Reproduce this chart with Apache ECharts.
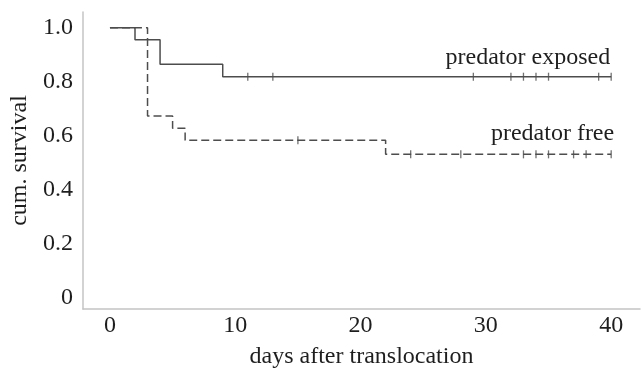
<!DOCTYPE html>
<html>
<head>
<meta charset="utf-8">
<script src="https://cdn.jsdelivr.net/npm/echarts@6/dist/echarts.min.js"></script>
<style>
  html, body { margin: 0; padding: 0; background: #fff; }
  #chart { width: 641px; height: 374px; }
</style>
</head>
<body>
<div id="chart"></div>
<script>
// Kaplan-Meier steps
var exposedDays = [0, 2, 4, 9, 40];
var exposedSurv = [1.0, 0.955, 0.864, 0.818, 0.818];
var exposedCensored = [11, 13, 29, 32, 33, 34, 35, 39, 40];

var freeDays = [0, 3, 5, 6, 22, 40];
var freeSurv = [1.0, 0.672, 0.627, 0.582, 0.53, 0.53];
var freeCensored = [15, 24, 28, 33, 34, 35, 37, 38, 40];

var xTicks = [0, 10, 20, 30, 40];
var yTicks = [0, 0.2, 0.4, 0.6, 0.8, 1.0];

var FONT = '"Liberation Serif", "DejaVu Serif", serif';
var textColor = '#1e1e1e';
var lineColor = '#4d4d4d';
var axisColor = '#c4c4c4';

// survival at day t (step function)
function survAt(days, surv, t) {
    var v = surv[0];
    for (var i = 0; i < days.length; i++) {
        if (days[i] <= t) v = surv[i];
    }
    return v;
}
function pairs(a, b) {
    return a.map(function (d, i) { return [d, b[i]]; });
}
function censorPoints(days, surv, cens) {
    return cens.map(function (t) { return [t, survAt(days, surv, t)]; });
}

var chart = echarts.init(document.getElementById('chart'));
var option = {
    animation: false,
    grid: { left: 83, right: 1, top: 12, bottom: 59 },
    xAxis: {
        type: 'value',
        min: -2.15,
        max: 42.3,
        name: 'days after translocation',
        nameLocation: 'middle',
        nameGap: 36,
        nameTextStyle: { fontFamily: FONT, fontSize: 24, color: textColor },
        axisLine: { show: true, onZero: false, lineStyle: { color: axisColor, width: 1.5 } },
        axisTick: { show: false },
        splitLine: { show: false },
        axisLabel: {
            customValues: xTicks,
            fontFamily: FONT, fontSize: 24, color: textColor, margin: 5
        }
    },
    yAxis: {
        type: 'value',
        min: -0.0436,
        max: 1.058,
        name: 'cum. survival',
        nameLocation: 'middle',
        nameGap: 43,
        nameTextStyle: { fontFamily: FONT, fontSize: 24, color: textColor },
        axisLine: { show: true, onZero: false, lineStyle: { color: axisColor, width: 1.5 } },
        axisTick: { show: false },
        splitLine: { show: false },
        axisLabel: {
            customValues: yTicks,
            fontFamily: FONT, fontSize: 24, color: textColor, margin: 10,
            formatter: function (v) { return v === 0 ? '0' : v.toFixed(1); }
        }
    },
    series: [
        {
            type: 'line',
            step: 'end',
            data: pairs(exposedDays, exposedSurv),
            symbol: 'none',
            lineStyle: { color: lineColor, width: 1.5 },
            markPoint: {
                symbol: 'circle', symbolSize: 0,
                label: {
                    show: true, position: 'top', align: 'right',
                    offset: [-1, -2],
                    formatter: 'predator exposed',
                    fontFamily: FONT, fontSize: 24, color: textColor
                },
                data: [{ coord: [40, exposedSurv[exposedSurv.length - 1]] }]
            }
        },
        {
            type: 'line',
            step: 'end',
            data: pairs(freeDays, freeSurv),
            symbol: 'none',
            lineStyle: { color: lineColor, width: 1.5, type: [8, 4] },
            markPoint: {
                symbol: 'circle', symbolSize: 0,
                label: {
                    show: true, position: 'top', align: 'right',
                    offset: [3, -4],
                    formatter: 'predator free',
                    fontFamily: FONT, fontSize: 24, color: textColor
                },
                data: [{ coord: [40, freeSurv[freeSurv.length - 1]] }]
            }
        },
        {
            type: 'scatter',
            data: censorPoints(exposedDays, exposedSurv, exposedCensored),
            symbol: 'rect',
            symbolSize: [1.3, 8],
            itemStyle: { color: lineColor }
        },
        {
            type: 'scatter',
            data: censorPoints(freeDays, freeSurv, freeCensored),
            symbol: 'rect',
            symbolSize: [1.3, 8],
            itemStyle: { color: lineColor }
        }
    ]
};
chart.setOption(option);
</script>
</body>
</html>
